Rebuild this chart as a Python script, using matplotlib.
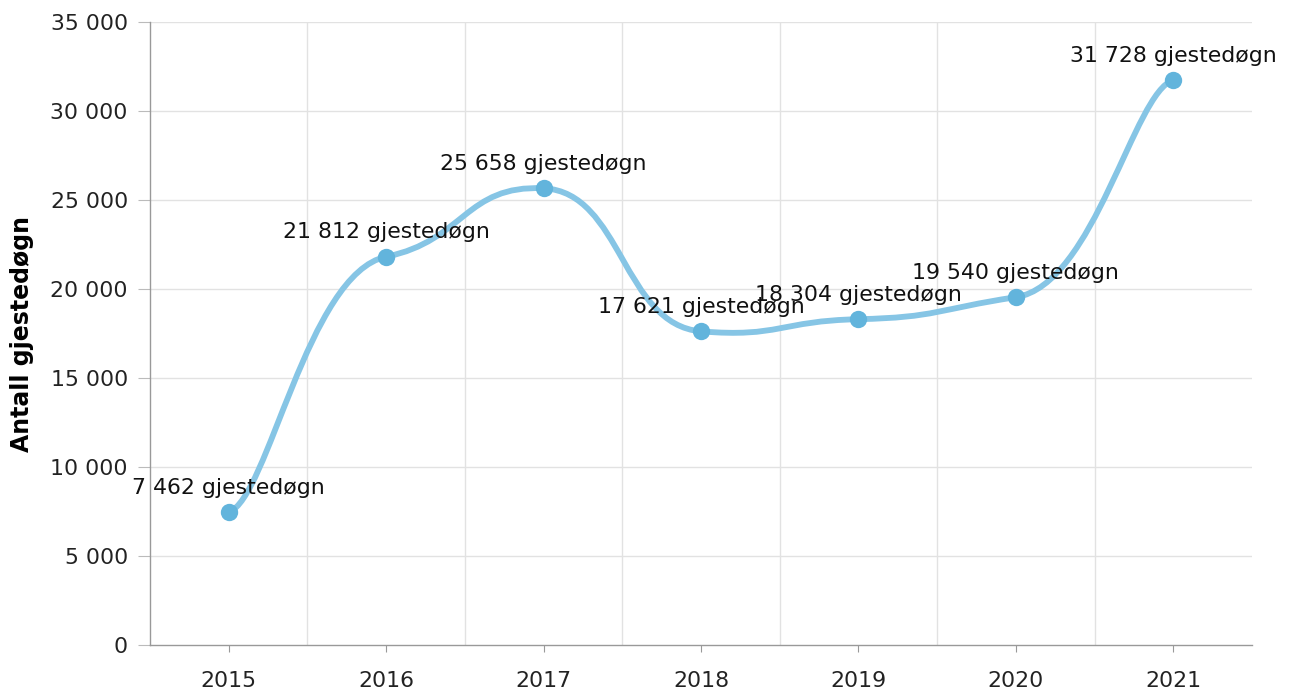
import matplotlib
matplotlib.use("Agg")
import matplotlib.pyplot as plt
from matplotlib.path import Path
from matplotlib.patches import PathPatch
from matplotlib.ticker import FuncFormatter, MultipleLocator

# Data
years = ["2015", "2016", "2017", "2018", "2019", "2020", "2021"]
guest_nights = [7462, 21812, 25658, 17621, 18304, 19540, 31728]
labels = ["7 462 gjestedøgn", "21 812 gjestedøgn", "25 658 gjestedøgn", "17 621 gjestedøgn",
          "18 304 gjestedøgn", "19 540 gjestedøgn", "31 728 gjestedøgn"]

line_color = "#86c5e5"
marker_color = "#62b4dc"
grid_color = "#e2e2e2"
axis_color = "#999999"


def smooth_path(xs, ys, arm=0.25, flat=0.2):
    # bezier through every point, long horizontal arms and damped slopes
    n = len(xs)
    verts = [(xs[0], ys[0])]
    codes = [Path.MOVETO]
    cps = []
    for i in range(n):
        p = max(i - 1, 0)
        q = min(i + 1, n - 1)
        dx = (xs[q] - xs[p]) * arm
        m = flat * (ys[q] - ys[p]) / (xs[q] - xs[p])
        cps.append(((xs[i] - dx, ys[i] - m * dx), (xs[i] + dx, ys[i] + m * dx)))
    for i in range(1, n):
        verts += [cps[i - 1][1], cps[i][0], (xs[i], ys[i])]
        codes += [Path.CURVE4] * 3
    return Path(verts, codes)


x = list(range(len(years)))

fig = plt.figure(figsize=(12.9, 6.93), dpi=100)
ax = fig.add_axes([150 / 1290, 1 - 645 / 693, 1102 / 1290, 623 / 693])

ax.set_xlim(-0.5, len(years) - 0.5)
ax.set_ylim(0, 35000)

# grid
for v in range(5000, 35001, 5000):
    ax.axhline(v, color=grid_color, lw=1, zorder=0)
for k in range(len(years) - 1):
    ax.axvline(k + 0.5, color=grid_color, lw=1, zorder=0)

ax.add_patch(PathPatch(smooth_path(x, guest_nights), fill=False, edgecolor=line_color,
                       lw=4.2, capstyle="round", zorder=2))
ax.plot(x, guest_nights, "o", ms=12.5, color=marker_color, zorder=3, mec="none")

for xi, yi, lab in zip(x, guest_nights, labels):
    ax.annotate(lab, (xi, yi), xytext=(0, 10.5), textcoords="offset points",
                ha="center", va="bottom", fontsize=15.8, color="#111111", zorder=4)

ax.set_xticks(x)
ax.set_xticklabels(years)
ax.yaxis.set_major_locator(MultipleLocator(5000))
ax.yaxis.set_major_formatter(FuncFormatter(lambda v, p: f"{int(v):,}".replace(",", " ")))

for s in ["top", "right"]:
    ax.spines[s].set_visible(False)
for s in ["left", "bottom"]:
    ax.spines[s].set_color(axis_color)
    ax.spines[s].set_linewidth(1)

ax.tick_params(axis="y", length=9, color="#bbbbbb", labelsize=15.8, pad=7, labelcolor="#222222")
ax.tick_params(axis="x", length=5, color=axis_color, labelsize=15.8, pad=14, labelcolor="#222222")

ax.set_ylabel("Antall gjestedøgn", fontsize=17, fontweight="bold", labelpad=12)

fig.savefig("out.png", dpi=100)
